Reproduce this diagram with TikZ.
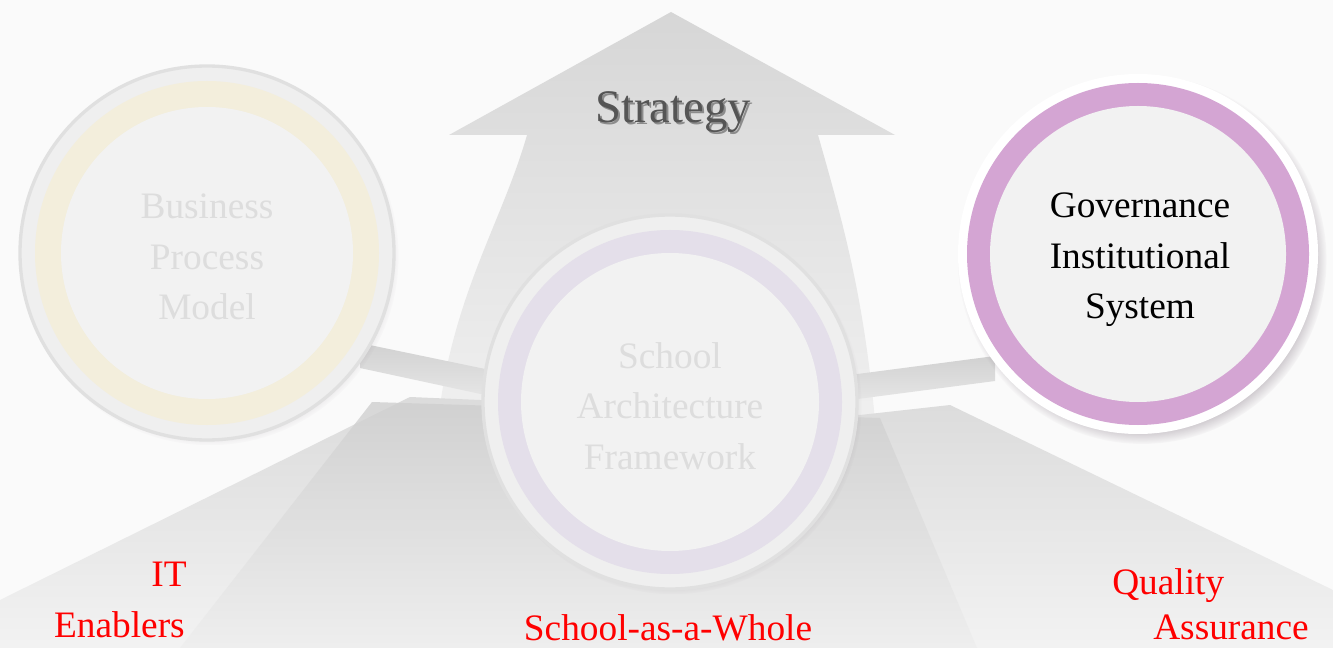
\documentclass[tikz,border=0pt]{standalone}
\usepackage{fontspec}
\setmainfont{Liberation Serif}
\usetikzlibrary{shadows}
\definecolor{bgc}{HTML}{FAFAFA}
\definecolor{rimc}{HTML}{EFEFEF}
\definecolor{rimedge}{HTML}{E0E0E0}
\definecolor{beige}{HTML}{F3EEDC}
\definecolor{lav}{HTML}{E4DFEA}
\definecolor{pinkc}{HTML}{D4A5D3}
\definecolor{corec}{HTML}{F2F2F2}
\definecolor{fainttxt}{HTML}{DDDDDD}
\definecolor{stratc}{HTML}{555555}
\definecolor{stratsh}{HTML}{8C8C8C}
\definecolor{shadc}{HTML}{6E5E6E}
\begin{document}
\begin{tikzpicture}[x=0.75pt,y=-0.75pt,
  rimnode/.style={circle, inner sep=0pt, minimum size=280.5pt, fill=rimc, draw=rimedge, line width=2.5pt,
     circular drop shadow={shadow xshift=2pt, shadow yshift=-2.5pt, shadow scale=1.01, fill=shadc, opacity=0.35}},
  ringnode/.style={circle, inner sep=0pt, minimum size=#1},
  corenode/.style={circle, inner sep=0pt, minimum size=#1, fill=corec},
  circtext/.style={align=center, inner sep=0pt, font=\fontsize{28}{38}\selectfont},
  lbl/.style={text=red, font=\fontsize{28}{38}\selectfont, inner sep=0pt}]
\useasboundingbox (0,0) rectangle (1333,648);
\fill[bgc] (0,0) rectangle (1333,648);

% big arrow
\path[top color=black!16, bottom color=black!5]
  (671,12) -- (895,135) -- (818,135) .. controls (845,230) and (868,310) .. (878,460)
  -- (435,460) .. controls (442,310) and (500,230) .. (527,135) -- (449,135) -- cycle;

% arms
\path[top color=black!18, bottom color=black!10]
  (360,343) -- (490,370) -- (490,396) -- (360,368) -- cycle;
\path[top color=black!18, bottom color=black!10]
  (850,375) -- (995,356) -- (995,381) -- (850,400) -- cycle;

% ground
\path[top color=black!14, bottom color=black!5]
  (0,600) -- (410,397) -- (480,400) -- (860,415) -- (950,405) -- (1333,590) -- (1333,648) -- (0,648) -- cycle;
\path[top color=black!19, bottom color=black!7, opacity=0.8]
  (180,648) -- (372,402) -- (880,418) -- (977,648) -- cycle;

% Strategy
\node (strat) [text=stratc, inner sep=0pt, font=\fontsize{35}{40}\selectfont] at (673,113)
  {\makebox[0pt][l]{\hspace{1.6pt}\raisebox{-2pt}{\color{stratsh}Strategy}}Strategy};

% left circle
\node[rimnode] (bpmrim) at (207,253) {};
\node[ringnode=258pt, fill=beige] (bpmring) at (bpmrim.center) {};
\node[corenode=219pt] (bpmcore) at (bpmrim.center) {};
\node[circtext, text=fainttxt] (bpm) at (207,257) {Business\\Process\\Model};

% middle circle
\node[rimnode] (safrim) at (670,402) {};
\node[ringnode=258pt, fill=lav] (safring) at (safrim.center) {};
\node[corenode=223.5pt] (safcore) at (safrim.center) {};
\node[circtext, text=fainttxt] (saf) at (670,406) {School\\Architecture\\Framework};

% right circle
\node[circle, inner sep=0pt, minimum size=270pt, fill=white,
     circular drop shadow={shadow xshift=3pt, shadow yshift=-4pt, shadow scale=1.025, fill=shadc, opacity=0.65}]
     (gisrim) at (1138,254) {};
\node[ringnode=256.5pt, fill=pinkc] (gisring) at (gisrim.center) {};
\node[corenode=222pt] (giscore) at (gisrim.center) {};
\node[circtext, text=black] (gis) at (1140,260) {Governance\\Institutional\\System};

% labels
\node[lbl, anchor=base east] (it) at (187,586) {IT};
\node[lbl, anchor=base east] (en) at (185,637) {Enablers};
\node[lbl, anchor=base] (saw) at (668,640) {School-as-a-Whole};
\node[lbl, anchor=base west] (qu) at (1112,594) {Quality};
\node[lbl, anchor=base west] (as) at (1153,639) {Assurance};
\end{tikzpicture}
\end{document}
